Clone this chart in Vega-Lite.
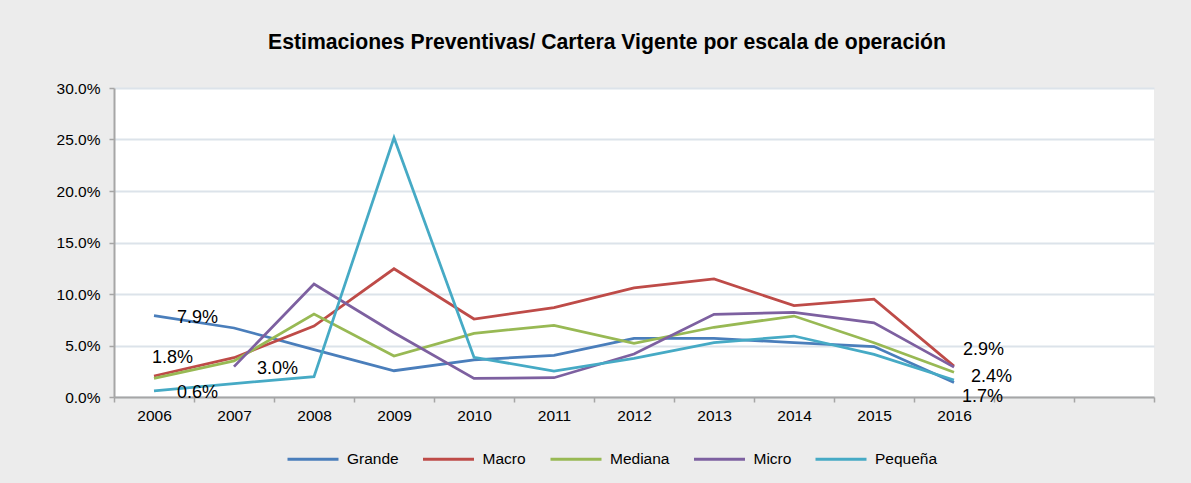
{
  "$schema": "https://vega.github.io/schema/vega-lite/v6.json",
  "width": 1040,
  "height": 309,
  "autosize": {"type": "none"},
  "padding": {"left": 114, "top": 88, "right": 37, "bottom": 86},
  "background": "#ececec",
  "view": {"fill": "white", "stroke": null},
  "config": {"font": "Liberation Sans"},
  "title": {
    "text": "Estimaciones Preventivas/ Cartera Vigente por escala de operación",
    "fontSize": 21.2,
    "fontWeight": "bold",
    "color": "#000000",
    "anchor": "middle",
    "dx": -27,
    "offset": 28
  },
  "data": {
    "values": [
      {"year": "2006", "serie": "Grande", "value": 0.079, "label": "7.9%"},
      {"year": "2007", "serie": "Grande", "value": 0.067},
      {"year": "2008", "serie": "Grande", "value": 0.046},
      {"year": "2009", "serie": "Grande", "value": 0.0255},
      {"year": "2010", "serie": "Grande", "value": 0.036},
      {"year": "2011", "serie": "Grande", "value": 0.0405},
      {"year": "2012", "serie": "Grande", "value": 0.057},
      {"year": "2013", "serie": "Grande", "value": 0.057},
      {"year": "2014", "serie": "Grande", "value": 0.0527},
      {"year": "2015", "serie": "Grande", "value": 0.049},
      {"year": "2016", "serie": "Grande", "value": 0.014},
      {"year": "2006", "serie": "Macro", "value": 0.0204},
      {"year": "2007", "serie": "Macro", "value": 0.0382},
      {"year": "2008", "serie": "Macro", "value": 0.0689},
      {"year": "2009", "serie": "Macro", "value": 0.1245},
      {"year": "2010", "serie": "Macro", "value": 0.0757},
      {"year": "2011", "serie": "Macro", "value": 0.0867},
      {"year": "2012", "serie": "Macro", "value": 0.106},
      {"year": "2013", "serie": "Macro", "value": 0.1146},
      {"year": "2014", "serie": "Macro", "value": 0.0887},
      {"year": "2015", "serie": "Macro", "value": 0.095},
      {"year": "2016", "serie": "Macro", "value": 0.030},
      {"year": "2006", "serie": "Mediana", "value": 0.018, "label": "1.8%"},
      {"year": "2007", "serie": "Mediana", "value": 0.035},
      {"year": "2008", "serie": "Mediana", "value": 0.0806},
      {"year": "2009", "serie": "Mediana", "value": 0.0398},
      {"year": "2010", "serie": "Mediana", "value": 0.0618},
      {"year": "2011", "serie": "Mediana", "value": 0.0696},
      {"year": "2012", "serie": "Mediana", "value": 0.052},
      {"year": "2013", "serie": "Mediana", "value": 0.0677},
      {"year": "2014", "serie": "Mediana", "value": 0.0786},
      {"year": "2015", "serie": "Mediana", "value": 0.0527},
      {"year": "2016", "serie": "Mediana", "value": 0.024, "label": "2.4%"},
      {"year": "2007", "serie": "Micro", "value": 0.0295, "label": "3.0%"},
      {"year": "2008", "serie": "Micro", "value": 0.1097},
      {"year": "2009", "serie": "Micro", "value": 0.0624},
      {"year": "2010", "serie": "Micro", "value": 0.0181},
      {"year": "2011", "serie": "Micro", "value": 0.0187},
      {"year": "2012", "serie": "Micro", "value": 0.0417},
      {"year": "2013", "serie": "Micro", "value": 0.0803},
      {"year": "2014", "serie": "Micro", "value": 0.0822},
      {"year": "2015", "serie": "Micro", "value": 0.072},
      {"year": "2016", "serie": "Micro", "value": 0.029, "label": "2.9%"},
      {"year": "2006", "serie": "Pequeña", "value": 0.006, "label": "0.6%"},
      {"year": "2007", "serie": "Pequeña", "value": 0.013},
      {"year": "2008", "serie": "Pequeña", "value": 0.0197},
      {"year": "2009", "serie": "Pequeña", "value": 0.2517},
      {"year": "2010", "serie": "Pequeña", "value": 0.0385},
      {"year": "2011", "serie": "Pequeña", "value": 0.0252},
      {"year": "2012", "serie": "Pequeña", "value": 0.0375},
      {"year": "2013", "serie": "Pequeña", "value": 0.0527},
      {"year": "2014", "serie": "Pequeña", "value": 0.0592},
      {"year": "2015", "serie": "Pequeña", "value": 0.0414},
      {"year": "2016", "serie": "Pequeña", "value": 0.0165, "label": "1.7%"}
    ]
  },
  "encoding": {
    "x": {
      "field": "year",
      "type": "ordinal",
      "bandPosition": 0.5,
      "scale": {
        "type": "band",
        "domain": ["2006", "2007", "2008", "2009", "2010", "2011", "2012", "2013", "2014", "2015", "2016", "2017", "2018"],
        "paddingInner": 0,
        "paddingOuter": 0
      },
      "axis": {
        "title": null,
        "labelExpr": "toNumber(datum.value) > 2016 ? '' : datum.label",
        "labelAngle": 0,
        "tickBand": "extent",
        "grid": false,
        "domainColor": "#a6a6a6",
        "domainWidth": 2,
        "tickColor": "#a6a6a6",
        "tickWidth": 1.5,
        "tickSize": 5,
        "labelFontSize": 15.5,
        "labelColor": "#000000",
        "labelPadding": 6
      }
    },
    "y": {
      "field": "value",
      "type": "quantitative",
      "scale": {"domain": [0, 0.3], "nice": false},
      "axis": {
        "title": null,
        "format": ".1%",
        "values": [0, 0.05, 0.1, 0.15, 0.2, 0.25, 0.3],
        "domainColor": "#a6a6a6",
        "domainWidth": 2,
        "tickColor": "#a6a6a6",
        "tickWidth": 1.5,
        "tickSize": 5,
        "labelFontSize": 15.5,
        "labelColor": "#000000",
        "labelPadding": 9,
        "gridColor": "#dce3ea",
        "gridWidth": 2
      }
    }
  },
  "layer": [
    {
      "mark": {"type": "line", "strokeWidth": 2.75},
      "encoding": {
        "color": {
          "field": "serie",
          "type": "nominal",
          "scale": {
            "domain": ["Grande", "Macro", "Mediana", "Micro", "Pequeña"],
            "range": ["#4a7ebb", "#be4b48", "#98b954", "#7d60a0", "#46aac5"]
          },
          "legend": {
            "title": null,
            "orient": "none",
            "legendX": 172,
            "legendY": 344,
            "direction": "horizontal",
            "symbolType": "stroke",
            "symbolSize": 2600,
            "symbolStrokeWidth": 3,
            "labelFontSize": 15.5,
            "labelColor": "#000000",
            "labelOffset": 7,
            "columnPadding": 17.5
          }
        }
      }
    },
    {
      "transform": [{"filter": "datum.label == '7.9%' || datum.label == '0.6%' || datum.label == '3.0%'"}],
      "mark": {"type": "text", "align": "left", "baseline": "middle", "fontSize": 18, "dx": 23, "dy": 2, "color": "#000000"},
      "encoding": {"text": {"field": "label"}}
    },
    {
      "transform": [{"filter": "datum.label == '1.8%'"}],
      "mark": {"type": "text", "align": "left", "baseline": "middle", "fontSize": 18, "dx": -2, "dy": -20, "color": "#000000"},
      "encoding": {"text": {"field": "label"}}
    },
    {
      "transform": [{"filter": "datum.label == '2.9%'"}],
      "mark": {"type": "text", "align": "left", "baseline": "middle", "fontSize": 18, "dx": 9, "dy": -17, "color": "#000000"},
      "encoding": {"text": {"field": "label"}}
    },
    {
      "transform": [{"filter": "datum.label == '2.4%'"}],
      "mark": {"type": "text", "align": "left", "baseline": "middle", "fontSize": 18, "dx": 17, "dy": 5, "color": "#000000"},
      "encoding": {"text": {"field": "label"}}
    },
    {
      "transform": [{"filter": "datum.label == '1.7%'"}],
      "mark": {"type": "text", "align": "left", "baseline": "middle", "fontSize": 18, "dx": 8, "dy": 17, "color": "#000000"},
      "encoding": {"text": {"field": "label"}}
    }
  ]
}
